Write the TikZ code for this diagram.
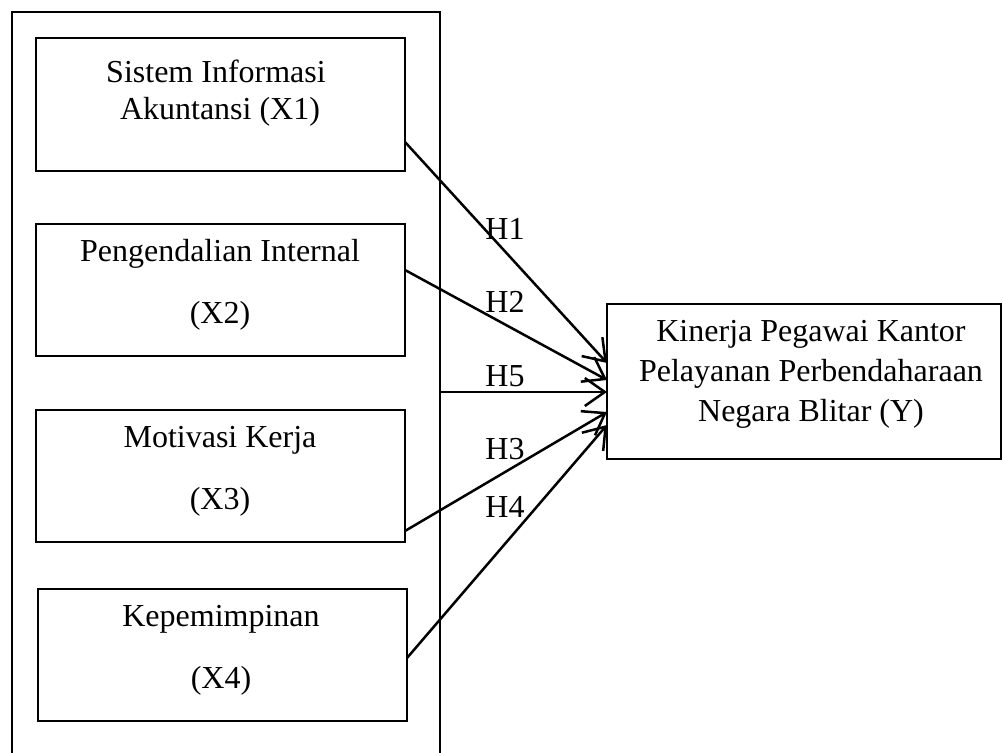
\documentclass[tikz,border=0pt]{standalone}
\usepackage{fontspec}
\setmainfont{Liberation Serif}
\usetikzlibrary{arrows.meta}
\begin{document}
\begin{tikzpicture}[x=0.5pt,y=-0.5pt,
  box/.style={draw,line width=1.45pt,rectangle,outer sep=0pt,inner sep=0pt},
  txt/.style={font=\fontsize{16}{20}\selectfont,inner sep=0pt},
  arr/.style={line width=1.25pt,-{Straight Barb[length=10pt,width=14pt,line width=1.25pt]}},
  frame/.style={line width=1.45pt}]
\useasboundingbox (0,0) rectangle (1003,753);
% outer frame (open at the bottom, cut by the image edge)
\draw[frame] (12,753) -- (12,12) -- (440,12) -- (440,753);
\coordinate (f5) at (440,392);
% boxes
\node[box,minimum width=184.5pt,minimum height=66.5pt] (x1) at (220.5,104.5) {};
\node[box,minimum width=184.5pt,minimum height=66pt] (x2) at (220.5,290) {};
\node[box,minimum width=184.5pt,minimum height=66pt] (x3) at (220.5,476) {};
\node[box,minimum width=184.5pt,minimum height=66pt] (x4) at (222.5,655) {};
\node[box,minimum width=197pt,minimum height=77.5pt] (y) at (804,381.5) {};
% texts
\node[txt] (t1a) at (216,71) {Sistem Informasi};
\node[txt] (t1b) at (220,112) {Akuntansi (X1)};
\node[txt] (t2a) at (220,254) {Pengendalian Internal};
\node[txt] (t2b) at (220,316) {(X2)};
\node[txt] (t3a) at (220,440) {Motivasi Kerja};
\node[txt] (t3b) at (220,502) {(X3)};
\node[txt] (t4a) at (221,619) {Kepemimpinan};
\node[txt] (t4b) at (221,681) {(X4)};
\node[txt] (tya) at (811,334) {Kinerja Pegawai Kantor};
\node[txt] (tyb) at (811,374) {Pelayanan Perbendaharaan};
\node[txt] (tyc) at (811,414) {Negara Blitar (Y)};
% arrows
\draw[arr] ([yshift=-18.75pt]x1.east) -- ([yshift=9.25pt]y.west);
\draw[arr] ([yshift=10pt]x2.east) -- ([yshift=0.75pt]y.west);
\draw[arr] (f5) -- ([yshift=-5.25pt]y.west);
\draw[arr] ([yshift=-27.5pt]x3.east) -- ([yshift=-15.25pt]y.west);
\draw[arr] ([yshift=-1.5pt]x4.east) -- ([yshift=-21.75pt]y.west);
% labels
\node[txt] (h1) at (505,229) {H1};
\node[txt] (h2) at (505,302) {H2};
\node[txt] (h5) at (505,376) {H5};
\node[txt] (h3) at (505,449) {H3};
\node[txt] (h4) at (505,507) {H4};
\end{tikzpicture}
\end{document}
